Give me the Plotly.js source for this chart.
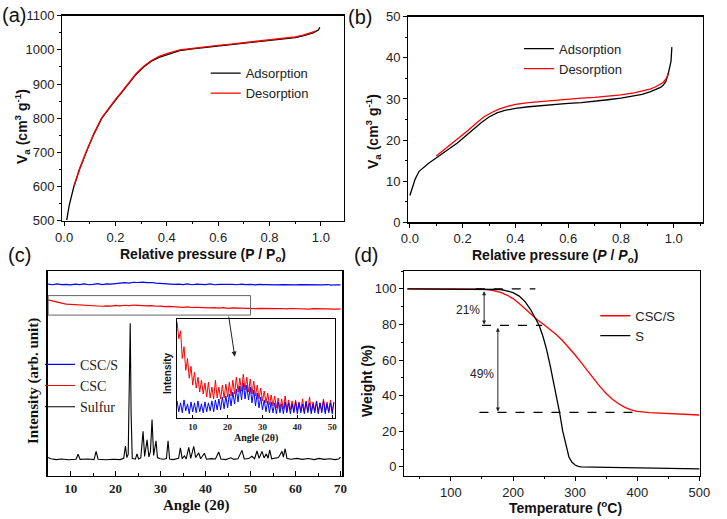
<!DOCTYPE html>
<html><head><meta charset="utf-8">
<script src="https://cdn.plot.ly/plotly-3.0.1.min.js"></script>
<style>html,body{margin:0;padding:0;background:#fff}#chart{width:727px;height:519px}</style>
</head><body><div id="chart"></div>
<script>
// ---------- (a) N2 isotherm, CSC ----------
const aAdsP = [0.010,0.020,0.038,0.060,0.086,0.115,0.147,0.180,0.200,0.220,0.250,0.280,0.310,0.340,0.370,0.400,0.450,0.500,0.550,0.600,0.650,0.700,0.750,0.800,0.850,0.900,0.930,0.950,0.970,0.980,0.990,0.996];
const aAdsV = [502,545,600,650,700,752,800,834,853,871,900,928,950,967,978,986,998,1003,1007,1011,1015,1019,1022,1026,1030,1036,1041,1045,1050,1054,1058,1066];
const aDesP = [0.040,0.060,0.086,0.115,0.147,0.180,0.200,0.220,0.250,0.280,0.310,0.340,0.370,0.400,0.450,0.500,0.550,0.600,0.650,0.700,0.750,0.800,0.850,0.900,0.930,0.950,0.970,0.980];
const aDesV = [604,652,702,754,802,836,855,873,902,930,952,969,981,989,1000,1005,1009,1013,1017,1021,1024,1028,1032,1038,1043,1047,1052,1055];

// ---------- (b) N2 isotherm, CSC/S ----------
const bAdsP = [0.0,0.01,0.02,0.035,0.05,0.07,0.09,0.12,0.15,0.18,0.21,0.24,0.27,0.30,0.33,0.36,0.40,0.45,0.50,0.55,0.60,0.65,0.70,0.75,0.80,0.85,0.88,0.91,0.93,0.95,0.96,0.97,0.98,0.985,0.99,0.993];
const bAdsV = [6.5,8.5,10.5,12.4,13.3,14.3,15.2,16.5,17.9,19.3,20.9,22.6,24.2,25.6,26.6,27.2,27.7,28.1,28.4,28.7,28.9,29.1,29.4,29.8,30.2,30.7,31.1,31.7,32.2,32.8,33.3,34.2,36.3,37.6,39.2,42.6];
const bDesP = [0.10,0.13,0.16,0.19,0.22,0.25,0.28,0.31,0.34,0.37,0.40,0.45,0.50,0.55,0.60,0.65,0.70,0.75,0.80,0.85,0.88,0.91,0.93,0.95,0.96,0.97,0.975,0.98];
const bDesV = [16.1,17.6,19.2,20.6,22.3,24.0,25.6,26.7,27.6,28.2,28.7,29.1,29.4,29.7,29.9,30.2,30.4,30.7,31.0,31.5,31.9,32.4,32.9,33.5,34.0,34.8,35.3,36.1];

// ---------- (c) XRD (stacked, arbitrary units) ----------
const cAngle = [5,6,7,8,9,10,11,12,13,14,15,16,17,18,19,20,21,22,23,24,25,26,27,28,29,30,31,32,33,34,35,36,37,38,39,40,41,42,43,44,45,46,47,48,49,50,51,52,53,54,55,56,57,58,59,60,61,62,63,64,65,66,67,68,69,70];
const cCSCS = [93.6,93.3,93.7,93.4,93.5,93.2,93.6,93.4,93.7,93.3,
  93.5,93.8,93.4,93.7,93.6,93.9,94.0,94.3,94.1,94.5,
  94.4,94.6,94.3,94.4,94.1,93.9,93.7,93.8,93.5,93.6,
  93.4,93.7,93.3,93.6,93.5,93.4,93.7,93.3,93.5,93.6,
  93.4,93.5,93.3,93.6,93.4,93.5,93.2,93.5,93.4,93.3,
  93.5,93.2,93.4,93.3,93.5,93.2,93.4,93.3,93.2,93.4,
  93.3,93.2,93.4,93.1,93.3,93.2];
const cCSC = [85.9,85.3,84.6,84.3,83.8,83.7,83.3,83.5,83.1,83.2,
  82.9,83.1,82.8,83.0,82.9,83.2,83.0,83.3,83.1,83.4,
  83.2,83.3,83.0,83.1,82.8,82.9,82.6,82.7,82.5,82.6,
  82.3,82.5,82.2,82.3,82.1,82.2,82.0,82.1,81.9,82.1,
  81.8,82.0,81.9,81.7,81.9,81.8,81.6,81.8,81.7,81.6,
  81.8,81.6,81.7,81.5,81.7,81.6,81.5,81.6,81.4,81.6,
  81.5,81.4,81.6,81.5,81.4,81.5];
const sAngle = [5.0,5.6,6.8,8.0,9.5,11.2,11.66,12.1,13.8,15.2,15.66,16.1,17.8,19.5,21.0,21.8,22.18,22.5,22.8,23.05,23.25,23.45,23.7,24.4,24.75,25.1,25.6,26.1,26.45,26.99,27.4,27.75,28.1,28.45,28.7,28.99,29.3,29.9,30.6,31.3,31.66,32.0,32.8,33.5,34.0,34.4,34.8,35.3,35.7,36.26,36.7,37.37,37.8,38.48,38.9,39.74,40.2,41.2,42.2,42.92,43.4,44.5,45.6,46.3,47.2,48.1,48.6,49.6,50.3,50.9,51.44,51.9,52.55,53.0,53.5,53.9,54.26,54.7,55.5,56.2,56.6,57.0,57.3,57.7,58.1,59.0,60.3,61.5,62.8,64.2,65.2,66.4,67.6,68.8,69.6,70.0];
const sSulfur = [9.0,8.4,8.0,8.3,7.9,8.2,10.6,8.1,8.3,8.0,12.0,8.2,7.9,8.2,8.0,8.6,14.6,9.0,10.5,40.0,74.5,30.0,8.6,8.2,10.8,8.3,8.8,21.8,9.5,17.6,9.3,12.0,27.6,10.0,13.0,17.2,9.0,8.4,8.2,8.5,17.2,8.3,8.0,8.4,8.6,13.7,8.5,9.8,8.3,14.0,8.6,14.5,9.0,11.3,8.4,11.1,8.2,8.5,8.3,11.7,8.3,8.0,8.9,8.1,8.4,12.5,8.3,8.5,9.6,8.4,12.2,8.6,12.0,8.8,10.8,8.7,12.8,8.4,8.9,9.0,10.5,12.0,9.2,13.3,8.5,8.2,8.6,8.1,8.5,8.0,8.6,8.1,8.4,8.0,8.3,9.2];

// inset (zoomed, arbitrary units)
const iAngle = [5.5,6.0,6.5,7.0,7.5,8.0,8.5,9.0,9.5,10.0,10.5,11.0,11.5,12.0,12.5,13.0,13.5,14.0,14.5,15.0,15.5,16.0,16.5,17.0,17.5,18.0,18.5,19.0,19.5,20.0,20.5,21.0,21.5,22.0,22.5,23.0,23.5,24.0,24.5,25.0,25.5,26.0,26.5,27.0,27.5,28.0,28.5,29.0,29.5,30.0,30.5,31.0,31.5,32.0,32.5,33.0,33.5,34.0,34.5,35.0,35.5,36.0,36.5,37.0,37.5,38.0,38.5,39.0,39.5,40.0,40.5,41.0,41.5,42.0,42.5,43.0,43.5,44.0,44.5,45.0,45.5,46.0,46.5,47.0,47.5,48.0,48.5,49.0,49.5,50.0,50.5];
const iCSC = [97,80,88,60,72,48,60,40,52,33,46,30,41,26,38,24,35,21,36,20,31,19,38,20,31,19,33,20,34,21,36,22,38,24,41,26,40,27,44,28,41,26,39,24,37,22,33,19,30,17,27,15,25,13,23,12,22,10,20,9,19,9,22,8,18,8,17,7,18,7,16,7,19,6,17,7,21,6,16,7,17,6,15,7,19,6,16,6,18,7,15];
const iCSCS = [17,6,15,5,18,7,14,4,16,6,15,5,17,6,14,5,16,6,15,7,17,6,18,8,19,8,21,9,22,10,24,12,26,14,29,16,32,18,35,19,33,18,31,15,28,12,25,10,21,8,18,6,17,5,16,5,15,4,16,5,14,4,16,5,15,4,14,5,16,4,15,5,14,4,16,5,15,4,14,5,16,4,15,5,17,4,14,5,15,4,16];

// ---------- (d) TGA ----------
const dTempCS = [30,100,150,165,180,190,200,210,220,230,240,250,260,270,280,290,300,310,320,330,340,350,360,370,380,390,400,420,450,480,500];
const dWtCS   = [100,100,99.8,99.3,98.0,96.5,94.5,91.8,88.6,85.2,82.3,79.8,77.2,74.2,70.8,67.0,62.8,58.4,53.8,49.3,45.0,41.2,38.0,35.4,33.4,32.0,31.1,30.4,29.9,29.4,29.1];
const dTempS = [30,100,150,170,180,190,200,210,220,228,235,242,248,254,260,265,270,275,280,285,290,295,300,305,310,330,380,440,500];
const dWtS   = [100,100,100,99.9,99.6,98.9,97.8,95.9,92.5,88.5,84.0,79.5,73.5,66.0,56.5,48.0,40.0,30.5,20.0,12.5,5.5,2.5,1.0,0.3,0.0,-0.2,-0.4,-0.8,-1.2];

const SANS = 'Liberation Sans, Arial, sans-serif';
const SERIF = 'Liberation Serif, Times New Roman, serif';
const W = 727, H = 519;
const px = v => v / W, py = v => 1 - v / H;

function ax(domain, range, extra) {
  return Object.assign({
    domain: domain, range: range, showline: true, mirror: true, linecolor: '#000', linewidth: 1.3,
    ticks: 'outside', ticklen: 4, tickwidth: 1, tickcolor: '#000', showgrid: false, zeroline: false,
    tickfont: {family: SANS, size: 13, color: '#222'}, fixedrange: true
  }, extra || {});
}
function title(text, x, y, font, angle) {
  return {text: text, xref: 'paper', yref: 'paper', x: px(x), y: py(y), xanchor: 'center', yanchor: 'middle',
    textangle: angle || 0, showarrow: false, font: font};
}
function letter(text, x, y) {
  return {text: text, xref: 'paper', yref: 'paper', x: px(x), y: py(y), xanchor: 'left', yanchor: 'middle',
    showarrow: false, font: {family: SANS, size: 20, color: '#111'}};
}

const traces = [
  {x: aAdsP, y: aAdsV, xaxis: 'x', yaxis: 'y', mode: 'lines', name: 'Adsorption', line: {color: '#000', width: 1.3}, legend: 'legend'},
  {x: aDesP, y: aDesV, xaxis: 'x', yaxis: 'y', mode: 'lines', name: 'Desorption', line: {color: '#ff0000', width: 1.3}, legend: 'legend'},
  {x: bAdsP, y: bAdsV, xaxis: 'x2', yaxis: 'y2', mode: 'lines', name: 'Adsorption', line: {color: '#000', width: 1.3}, legend: 'legend2'},
  {x: bDesP, y: bDesV, xaxis: 'x2', yaxis: 'y2', mode: 'lines', name: 'Desorption', line: {color: '#ff0000', width: 1.3}, legend: 'legend2'},
  {x: cAngle, y: cCSCS, xaxis: 'x3', yaxis: 'y3', mode: 'lines', name: 'CSC/S', line: {color: '#0000ff', width: 1.2}, legend: 'legend3'},
  {x: cAngle, y: cCSC, xaxis: 'x3', yaxis: 'y3', mode: 'lines', name: 'CSC', line: {color: '#ff0000', width: 1.2}, legend: 'legend3'},
  {x: sAngle, y: sSulfur, xaxis: 'x3', yaxis: 'y3', mode: 'lines', name: 'Sulfur', line: {color: '#000', width: 1.1}, legend: 'legend3'},
  {x: iAngle, y: iCSC, xaxis: 'x4', yaxis: 'y4', mode: 'lines', showlegend: false, line: {color: '#ff0000', width: 1}},
  {x: iAngle, y: iCSCS, xaxis: 'x4', yaxis: 'y4', mode: 'lines', showlegend: false, line: {color: '#0000ff', width: 1}},
  {x: dTempCS, y: dWtCS, xaxis: 'x5', yaxis: 'y5', mode: 'lines', name: 'CSC/S', line: {color: '#ff0000', width: 1.3}, legend: 'legend4'},
  {x: dTempS, y: dWtS, xaxis: 'x5', yaxis: 'y5', mode: 'lines', name: 'S', line: {color: '#000', width: 1.3}, legend: 'legend4'}
];

const minorA = {ticklen: 2, tickcolor: '#000'};
const lgSans = {family: SANS, size: 13, color: '#222'};
const tSans = {family: SANS, size: 14, color: '#111'};

const layout = {
  width: W, height: H, margin: {l: 0, r: 0, t: 0, b: 0},
  paper_bgcolor: '#fff', plot_bgcolor: '#fff',
  xaxis: ax([px(62.3), px(344)], [-0.007, 1.09], {dtick: 0.2, tickformat: '.1f', anchor: 'y', minor: Object.assign({dtick: 0.1}, minorA)}),
  yaxis: ax([py(220.7), py(15.7)], [500, 1100], {dtick: 100, anchor: 'x', minor: Object.assign({dtick: 50}, minorA)}),
  xaxis2: ax([px(408.3), px(702.7)], [-0.006, 1.11], {dtick: 0.2, tickformat: '.1f', anchor: 'y2', minor: Object.assign({dtick: 0.1}, minorA)}),
  yaxis2: ax([py(222.3), py(16.7)], [0, 50], {dtick: 10, anchor: 'x2', minor: Object.assign({dtick: 5}, minorA)}),
  xaxis3: ax([px(47.7), px(342.3)], [4.9, 70.4], {dtick: 10, anchor: 'y3', ticks: 'inside', ticklen: 5,
    tickfont: {family: SERIF, size: 13, color: '#222', weight: 'bold'}, minor: {dtick: 5, ticklen: 3, tickcolor: '#000', ticks: 'inside'}}),
  yaxis3: ax([py(476), py(271)], [0, 100], {anchor: 'x3', showticklabels: false, ticks: ''}),
  xaxis4: ax([px(176.7), px(335)], [5.4, 50.8], {dtick: 10, anchor: 'y4', ticks: 'inside', ticklen: 3, linewidth: 1.1,
    tickfont: {family: SERIF, size: 9, color: '#222', weight: 'bold'}}),
  yaxis4: ax([py(417.7), py(319)], [0, 100], {anchor: 'x4', showticklabels: false, ticks: '', linewidth: 1.1}),
  xaxis5: ax([px(404.3), px(700)], [25, 501], {dtick: 100, tick0: 0, anchor: 'y5', minor: Object.assign({dtick: 50}, minorA)}),
  yaxis5: ax([py(475.7), py(271)], [-5, 110], {dtick: 20, tick0: 0, anchor: 'x5', minor: Object.assign({dtick: 10}, minorA)}),
  legend: {x: px(205.7), y: py(83.2), xanchor: 'left', yanchor: 'middle', bgcolor: 'rgba(0,0,0,0)', font: lgSans},
  legend2: {x: px(519), y: py(58.7), xanchor: 'left', yanchor: 'middle', bgcolor: 'rgba(0,0,0,0)', font: lgSans},
  legend3: {x: px(40), y: py(385.7), xanchor: 'left', yanchor: 'middle', bgcolor: 'rgba(0,0,0,0)', font: {family: SERIF, size: 14, color: '#222'}},
  legend4: {x: px(595.3), y: py(325.8), xanchor: 'left', yanchor: 'middle', bgcolor: 'rgba(0,0,0,0)', font: lgSans},
  shapes: [
    {type: 'rect', xref: 'x3', yref: 'y3', x0: 5, x1: 50, y0: 78.5, y1: 88, line: {color: '#666', width: 1}},
    {type: 'line', xref: 'x5', yref: 'y5', x0: 140, x1: 236, y0: 100, y1: 100, line: {color: '#000', width: 1.2, dash: 'dash'}},
    {type: 'line', xref: 'x5', yref: 'y5', x0: 150, x1: 247, y0: 79.5, y1: 79.5, line: {color: '#000', width: 1.2, dash: 'dash'}},
    {type: 'line', xref: 'x5', yref: 'y5', x0: 146, x1: 405, y0: 30.6, y1: 30.6, line: {color: '#000', width: 1.2, dash: 'dash'}}
  ],
  annotations: [
    letter('(a)', 0, 15), letter('(b)', 346, 17), letter('(c)', 6, 255), letter('(d)', 352, 255),
    title('<b>Relative pressure (P / P<sub>o</sub>)</b>', 203, 255, tSans),
    title('<b>Relative pressure (<i>P</i> / <i>P</i><sub>o</sub>)</b>', 555, 256, tSans),
    title('<b>V<sub>a</sub> (cm<sup>3</sup> g<sup>-1</sup>)</b>', 22, 127, tSans, -90),
    title('<b>V<sub>a</sub> (cm<sup>3</sup> g<sup>-1</sup>)</b>', 373, 131, tSans, -90),
    title('<b>Intensity (arb. unit)</b>', 33, 381, {family: SERIF, size: 15, color: '#111'}, -90),
    title('<b>Angle (2θ)</b>', 196, 505, {family: SERIF, size: 15, color: '#111'}),
    title('<b>Intensity</b>', 167, 373, {family: SANS, size: 10, color: '#111'}, -90),
    title('<b>Angle (2θ)</b>', 256, 438, {family: SERIF, size: 10, color: '#111'}),
    title('<b>Weight (%)</b>', 367, 381, tSans, -90),
    title('<b>Temperature (<sup>o</sup>C)</b>', 565, 507, tSans),
    // (c) arrow to inset
    {xref: 'x3', yref: 'y3', axref: 'x3', ayref: 'y3', x: 46.5, y: 58.2, ax: 45.1, ay: 78.5, text: '', showarrow: true, arrowhead: 2, arrowsize: 1, arrowwidth: 1, arrowcolor: '#222'},
    // (d) mass-loss arrows and labels
    {xref: 'x5', yref: 'y5', axref: 'x5', ayref: 'y5', x: 153.5, y: 80, ax: 153.5, ay: 99.5, text: '', showarrow: true, arrowhead: 2, arrowside: 'end+start', arrowsize: 0.8, arrowwidth: 1, arrowcolor: '#222'},
    {xref: 'x5', yref: 'y5', axref: 'x5', ayref: 'y5', x: 175.6, y: 31, ax: 175.6, ay: 79, text: '', showarrow: true, arrowhead: 2, arrowside: 'end+start', arrowsize: 0.8, arrowwidth: 1, arrowcolor: '#222'},
    {text: '21%', xref: 'x5', yref: 'y5', x: 127, y: 88, xanchor: 'center', yanchor: 'middle', showarrow: false, font: {family: SANS, size: 12, color: '#222'}},
    {text: '49%', xref: 'x5', yref: 'y5', x: 150, y: 52.4, xanchor: 'center', yanchor: 'middle', showarrow: false, font: {family: SANS, size: 12, color: '#222'}}
  ]
};

Plotly.newPlot('chart', traces, layout, {displayModeBar: false, staticPlot: true});
</script>
</body></html>
